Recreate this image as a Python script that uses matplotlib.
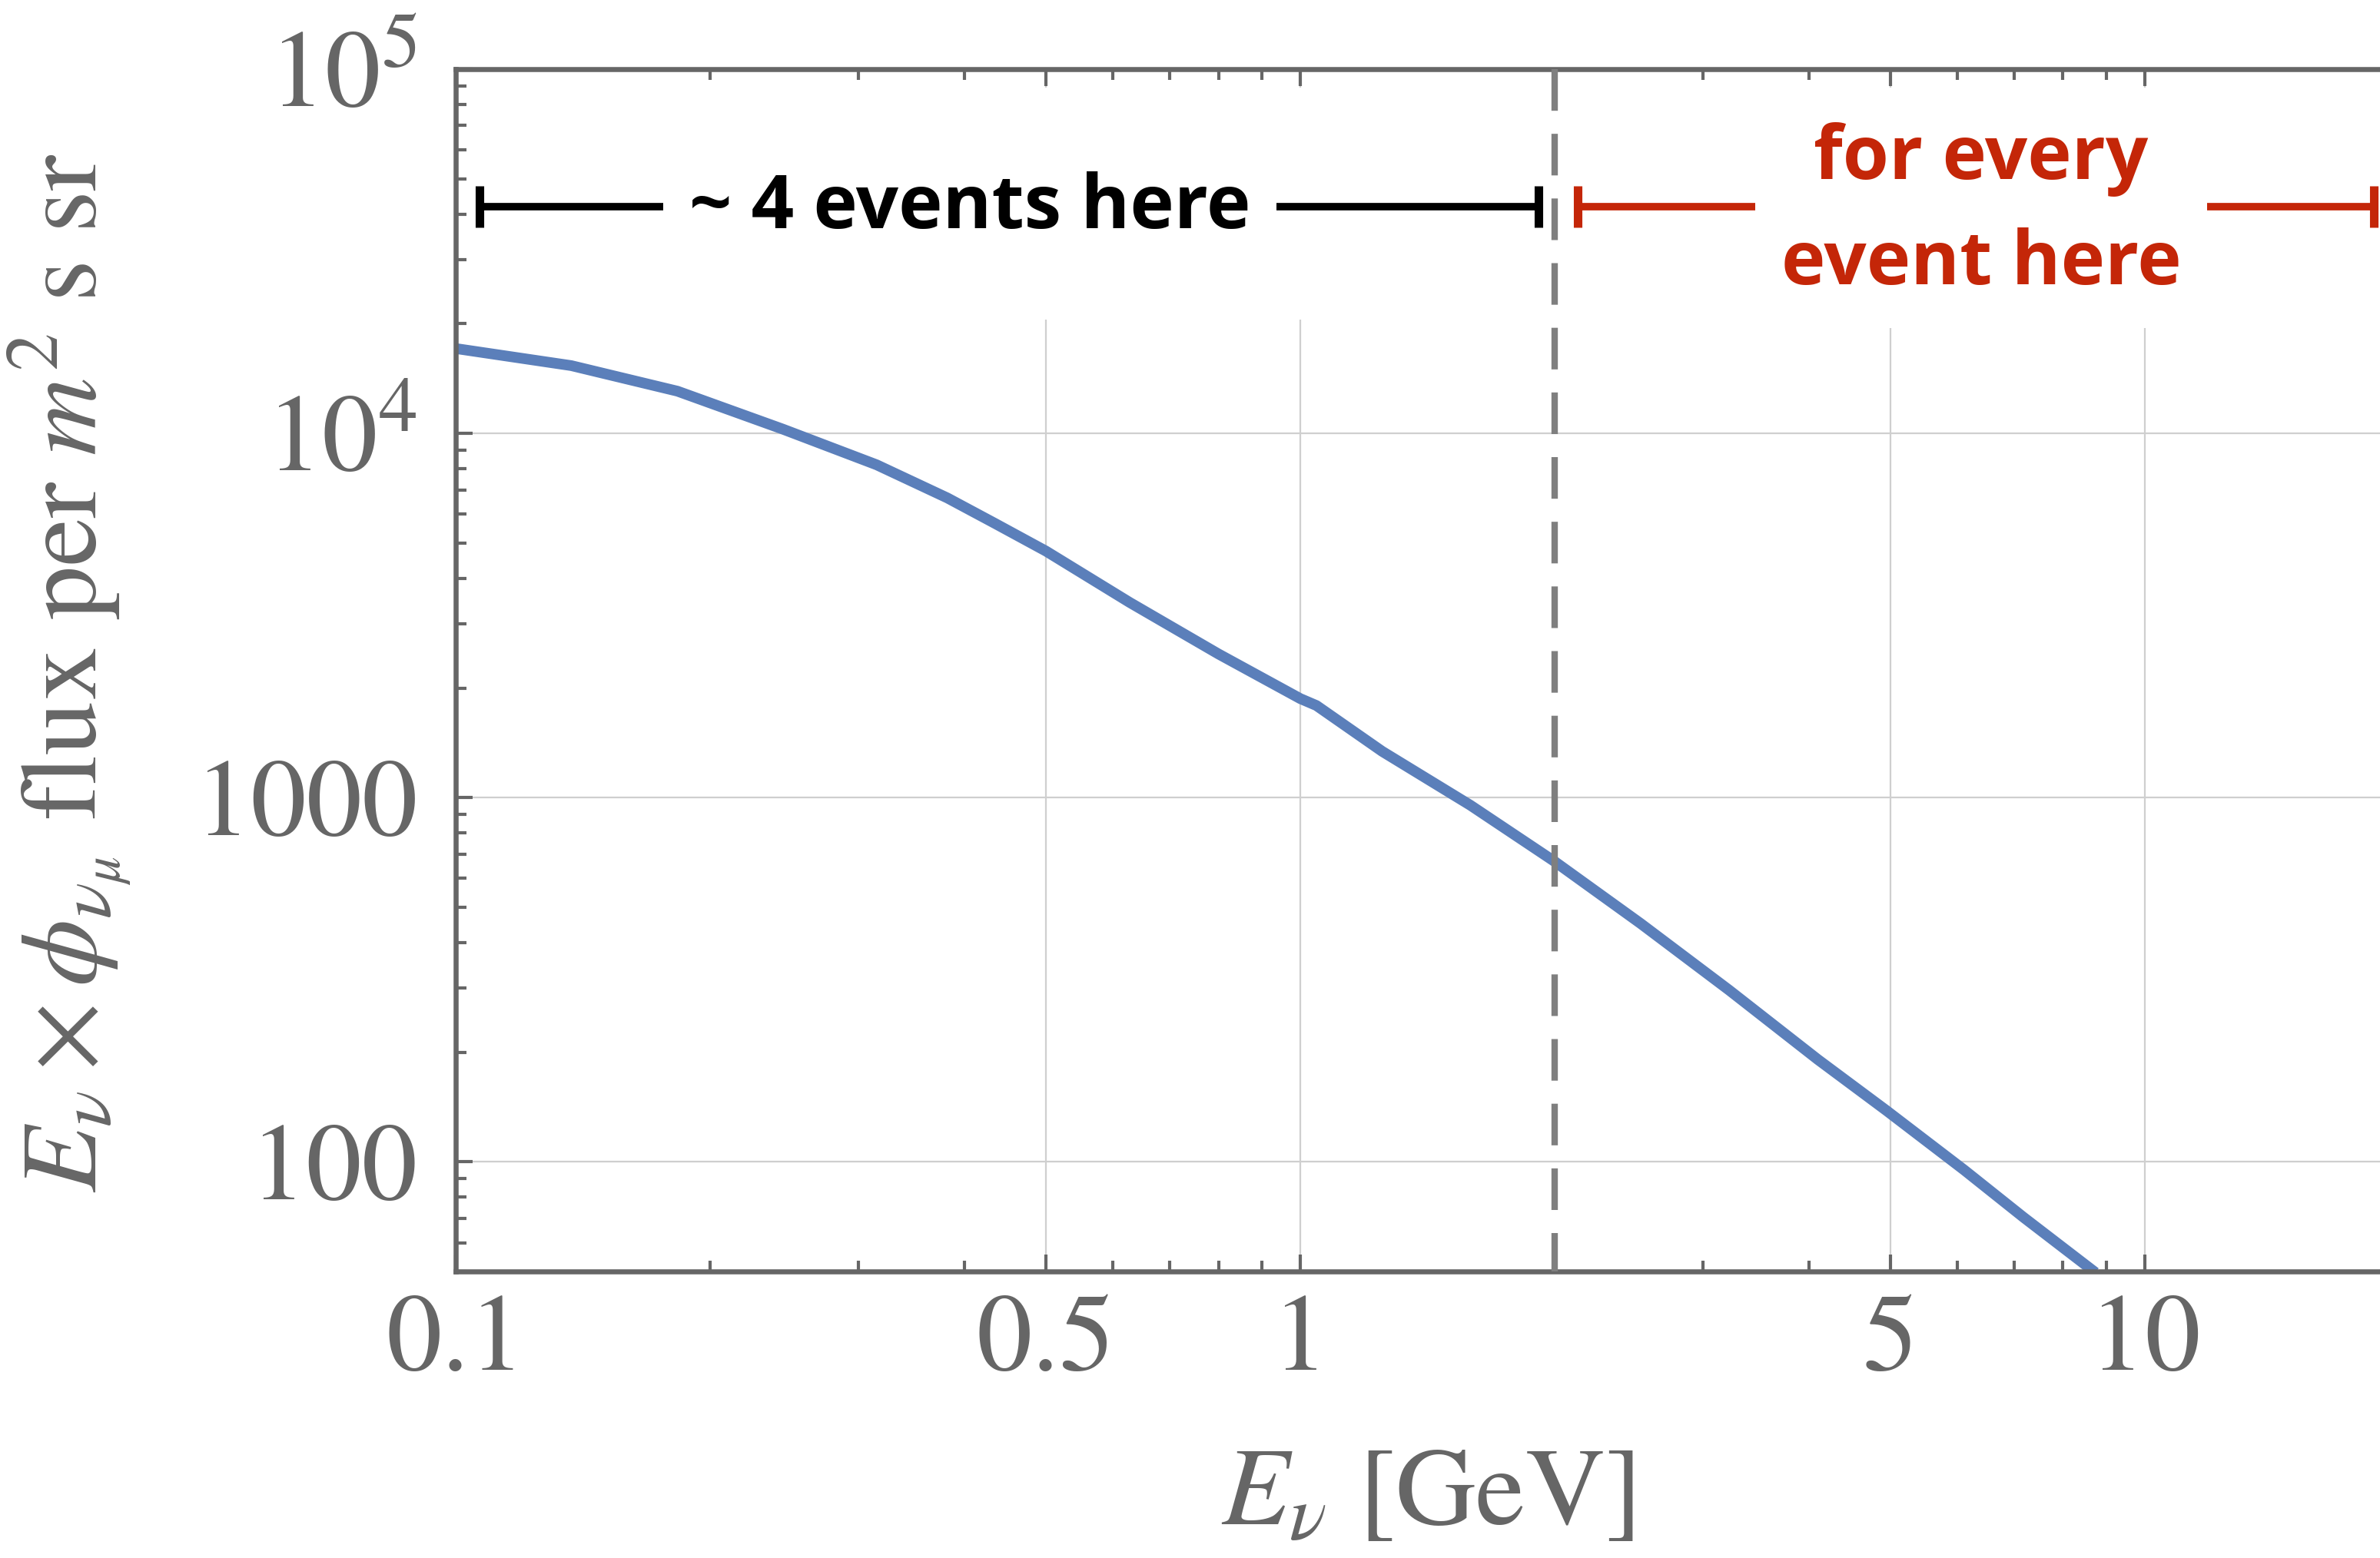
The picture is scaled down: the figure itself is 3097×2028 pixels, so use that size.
import matplotlib
matplotlib.use("Agg")
import matplotlib.pyplot as plt
from matplotlib.patches import Rectangle
from matplotlib.ticker import FixedLocator, NullFormatter

plt.rcParams["font.family"] = ["STIXGeneral", "DejaVu Serif"]
plt.rcParams["mathtext.fontset"] = "stix"

# nu_mu flux
energy = [0.1, 0.137, 0.183, 0.244, 0.315, 0.382, 0.435, 0.5, 0.628, 0.8, 1.0, 1.045,
          1.25, 1.59, 2.0, 2.53, 3.22, 4.1, 4.95, 6.11, 7.18, 8.64]
flux = [17100, 15350, 13060, 10270, 8200, 6650, 5660, 4750, 3435, 2480, 1870, 1790,
        1340, 953, 668, 451, 296, 191, 138, 95, 70.5, 50.7]

x_major = [0.1, 0.5, 1, 5, 10]
x_labels = ["0.1", "0.5", "1", "5", "10"]
x_minor = [0.2, 0.3, 0.4, 0.6, 0.7, 0.8, 0.9, 2, 3, 4, 6, 7, 8, 9, 20]
y_major = [100, 1000, 1e4, 1e5]
y_labels = ["100", "1000", r"$10^4$", r"$10^5$"]
y_minor = [m * 10 ** d for d in range(1, 5) for m in range(2, 10)]

e_min, e_split, e_max = 0.1, 2.0, 20.0
bracket_y = 42000
left_text = "~ 4 events here"
right_text = "for every\nevent here"

grey = "#666666"
blue = "#5b7fba"
red = "#c42608"

fig = plt.figure(figsize=(30.97, 20.28), dpi=100)
ax = fig.add_axes([0.1915, 0.1839, 1.008 - 0.1915, 0.9556 - 0.1839])

ax.plot(energy, flux, color=blue, lw=10, zorder=2)
ax.set_xscale("log")
ax.set_yscale("log")
ax.set_xlim(e_min, e_max)
ax.set_ylim(50, 1e5)

ax.xaxis.set_major_locator(FixedLocator(x_major))
ax.xaxis.set_minor_locator(FixedLocator(x_minor))
ax.set_xticklabels(x_labels)
ax.xaxis.set_minor_formatter(NullFormatter())
ax.yaxis.set_major_locator(FixedLocator(y_major))
ax.yaxis.set_minor_locator(FixedLocator(y_minor))
ax.set_yticklabels(y_labels)
ax.yaxis.set_minor_formatter(NullFormatter())

ax.tick_params(which="both", direction="in", top=True, right=False, color=grey,
               labelcolor=grey, labelsize=104)
ax.tick_params(which="major", length=16, width=3)
ax.tick_params(which="minor", length=10, width=3)
ax.tick_params(axis="x", which="major", pad=22)
ax.tick_params(axis="y", which="major", pad=36)

for s in ax.spines.values():
    s.set_color(grey)
    s.set_linewidth(4.7)

ax.grid(True, which="major", color="#cfcfcf", lw=1.6)

# white patch behind the annotations hides the grid up there
ax.add_patch(Rectangle((0.013, 0.792), 1.0, 0.985 - 0.792, transform=ax.transAxes,
                       facecolor="white", edgecolor="none", zorder=2.6))

# dashed divider, dashes start from the top
ax.axvline(e_split, ymin=1, ymax=0, color="#7f7f7f", lw=6, dashes=(6.5, 3.6), zorder=3)

ax.set_xlabel(r"$E_{\nu}$ [GeV]", fontsize=104, color=grey)
ax.xaxis.set_label_coords(0.5, -0.148)
ax.set_ylabel(r"$E_{\nu} \times \phi_{\nu_{\mu}}$ flux per $m^2$ s sr", fontsize=101, color=grey)
ax.yaxis.set_label_coords(-0.166, 0.498)

# brackets
lx0, lx1 = e_min * 1.067, e_split * 0.957
rx0, rx1 = e_split * 1.065, e_max * 0.933
ax.plot([lx0, lx1], [bracket_y, bracket_y], color="black", lw=7, marker="|",
        ms=39, mew=8, zorder=4, solid_capstyle="butt")
ax.plot([rx0, rx1], [bracket_y, bracket_y], color=red, lw=7, marker="|",
        ms=39, mew=8, zorder=4, solid_capstyle="butt")

box = dict(boxstyle="square,pad=0.35", facecolor="white", edgecolor="none")
ax.text(0.406, bracket_y * 0.985, left_text, ha="center", va="center",
        fontsize=70, family="Open Sans", weight="bold", color="black", bbox=box, zorder=5)
ax.text(6.4, bracket_y * 0.965, right_text, ha="center", va="center", multialignment="center",
        fontsize=70, family="Open Sans", weight="bold", color=red, linespacing=1.55,
        bbox=box, zorder=5)

fig.savefig("out.png", dpi=100)
